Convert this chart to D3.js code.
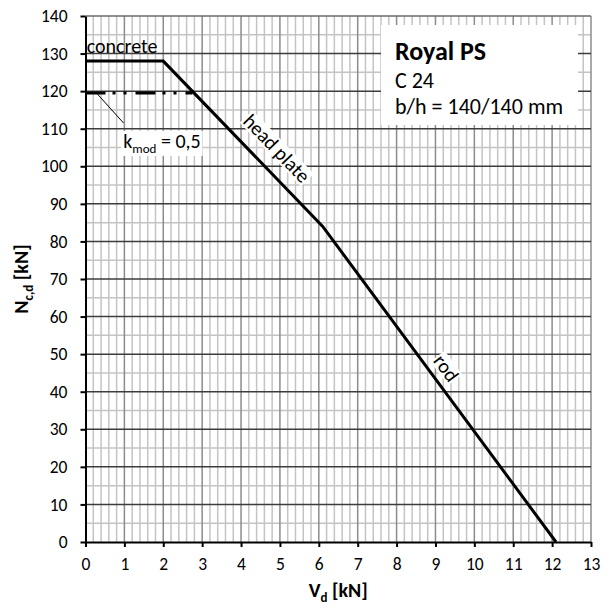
<!DOCTYPE html>
<html>
<head>
<meta charset="utf-8">
<script src="https://cdn.jsdelivr.net/npm/d3@7"></script>
<style>
  body { margin: 0; background: #fff; }
  svg { font-family: "Carlito", "Open Sans", sans-serif; }
</style>
</head>
<body>
<div id="chart"></div>
<script>
// values
const vTicks = d3.range(0, 14, 1);          // V_d [kN]
const nTicks = d3.range(0, 141, 10);        // N_c,d [kN]
const vMinor = d3.range(0, 13.01, 0.2);
const nMinor = d3.range(5, 140, 10);

// design curve: concrete -> head plate -> rod
const curveV = [0, 2.0, 6.1, 12.1];
const curveN = [128, 128, 84, 0];

// k_mod = 0,5 reduction
const kmodV = [0, 2.75];
const kmodN = [119.5, 119.5];
const leaderV = [0.3, 0.98];
const leaderN = [119.3, 111.5];

const infoLines = ["Royal PS", "C 24", "b/h = 140/140 mm"];

const width = 611, height = 610;
const margin = {top: 16, right: 20, bottom: 68, left: 85.5};

const x = d3.scaleLinear()
  .domain([0, 13])
  .range([margin.left, width - margin.right]);

const y = d3.scaleLinear()
  .domain([0, 140])
  .range([height - margin.bottom, margin.top]);

const svg = d3.select("#chart").append("svg")
  .attr("width", width)
  .attr("height", height);

// ================================
// grid
// ================================
const grid = svg.append("g").attr("fill", "none");

grid.selectAll(".vminor")
  .data(vMinor.filter(v => Math.abs(v - Math.round(v)) > 1e-6))
  .join("line")
  .attr("x1", d => x(d)).attr("x2", d => x(d))
  .attr("y1", y(0)).attr("y2", y(140))
  .attr("stroke", "#c4c4c4")
  .attr("stroke-width", 1.5);

grid.selectAll(".nminor")
  .data(nMinor)
  .join("line")
  .attr("x1", x(0)).attr("x2", x(13))
  .attr("y1", d => y(d)).attr("y2", d => y(d))
  .attr("stroke", "#c4c4c4")
  .attr("stroke-width", 1.5);

grid.selectAll(".vmajor")
  .data(vTicks.slice(1))
  .join("line")
  .attr("x1", d => x(d)).attr("x2", d => x(d))
  .attr("y1", y(0)).attr("y2", y(140))
  .attr("stroke", "#8c8c8c")
  .attr("stroke-width", 1.5);

grid.selectAll(".nmajor")
  .data(nTicks.slice(1))
  .join("line")
  .attr("x1", x(0)).attr("x2", x(13))
  .attr("y1", d => y(d)).attr("y2", d => y(d))
  .attr("stroke", d => d === 140 ? "#6a6a6a" : "#3c3c3c")
  .attr("stroke-width", 1.5);

// ================================
// axes
// ================================
const xAxis = g => g
  .attr("transform", `translate(0,${y(0)})`)
  .call(d3.axisBottom(x).tickValues(vTicks).tickSize(5).tickSizeOuter(0).tickPadding(11))
  .call(g => g.select(".domain").attr("stroke-width", 2))
  .call(g => g.selectAll(".tick line").attr("stroke-width", 2))
  .call(g => g.selectAll("text").attr("font-size", 17.5).attr("fill", "#000"));

const yAxis = g => g
  .attr("transform", `translate(${x(0)},0)`)
  .call(d3.axisLeft(y).tickValues(nTicks).tickSize(5).tickSizeOuter(0).tickPadding(13))
  .call(g => g.select(".domain").attr("stroke-width", 2))
  .call(g => g.selectAll(".tick line").attr("stroke-width", 2))
  .call(g => g.selectAll("text").attr("font-size", 17.5).attr("fill", "#000"));

svg.append("g").call(xAxis).attr("font-family", null);
svg.append("g").call(yAxis).attr("font-family", null);

// axis titles
const xTitle = svg.append("text")
  .attr("x", x(6.5))
  .attr("y", 596.5)
  .attr("text-anchor", "middle")
  .attr("font-weight", "bold")
  .attr("font-size", 20);
xTitle.append("tspan").text("V");
xTitle.append("tspan").text("d").attr("font-size", 13).attr("dy", 5);
xTitle.append("tspan").text(" [kN]").attr("dy", -5);

const yTitle = svg.append("text")
  .attr("transform", `translate(28,${y(70)}) rotate(-90)`)
  .attr("text-anchor", "middle")
  .attr("font-weight", "bold")
  .attr("font-size", 20);
yTitle.append("tspan").text("N");
yTitle.append("tspan").text("c,d").attr("font-size", 13).attr("dy", 5);
yTitle.append("tspan").text(" [kN]").attr("dy", -5);

// ================================
// curves
// ================================
const line = d3.line()
  .x(d => x(d[0]))
  .y(d => y(d[1]));

svg.append("path")
  .datum(d3.zip(kmodV, kmodN))
  .attr("d", line)
  .attr("fill", "none")
  .attr("stroke", "#000")
  .attr("stroke-width", 3)
  .attr("stroke-dasharray", "20,7,3,8,3,9");

svg.append("path")
  .datum(d3.zip(curveV, curveN))
  .attr("d", line)
  .attr("fill", "none")
  .attr("stroke", "#000")
  .attr("stroke-width", 3)
  .attr("stroke-linejoin", "miter");

svg.append("path")
  .datum(d3.zip(leaderV, leaderN))
  .attr("d", line)
  .attr("stroke", "#000")
  .attr("stroke-width", 1);

// ================================
// labels
// ================================
svg.append("text")
  .attr("x", x(0.03))
  .attr("y", 52.7)
  .attr("font-size", 20)
  .text("concrete");

// k_mod label with white background
const kmodGroup = svg.append("g");
const kmodText = kmodGroup.append("text")
  .attr("x", x(0.97))
  .attr("y", y(104.9))
  .attr("font-size", 20);
kmodText.append("tspan").text("k");
kmodText.append("tspan").text("mod").attr("font-size", 13).attr("dy", 5);
kmodText.append("tspan").text(" = 0,5").attr("dy", -5);
const kb = kmodText.node().getBBox();
kmodGroup.insert("rect", "text")
  .attr("x", kb.x - 2).attr("y", kb.y + 2)
  .attr("width", kb.width + 4).attr("height", kb.height - 2)
  .attr("fill", "#fff");

// rotated labels following the segments
const segAngle = (i) => Math.atan2(y(curveN[i + 1]) - y(curveN[i]), x(curveV[i + 1]) - x(curveV[i])) * 180 / Math.PI;

const slopeLabel = (txt, v, n, seg) => {
  const g = svg.append("g")
    .attr("transform", `translate(${x(v)},${y(n)}) rotate(${segAngle(seg)})`);
  const t = g.append("text")
    .attr("text-anchor", "middle")
    .attr("dy", "0.35em")
    .attr("font-size", 20)
    .text(txt);
  const b = t.node().getBBox();
  g.insert("rect", "text")
    .attr("x", b.x - 1).attr("y", b.y + 3)
    .attr("width", b.width + 2).attr("height", b.height - 6)
    .attr("fill", "#fff");
};

slopeLabel("head plate", 4.92, 104.8, 1);
slopeLabel("rod", 9.28, 46.3, 2);

// info box
svg.append("rect")
  .attr("x", 381).attr("y", 25)
  .attr("width", 197).attr("height", 100)
  .attr("fill", "#fff");

svg.append("g")
  .selectAll("text")
  .data(infoLines)
  .join("text")
  .attr("x", 395)
  .attr("y", (d, i) => [60, 88, 114][i])
  .attr("font-size", (d, i) => i === 0 ? 26 : 22)
  .attr("font-weight", (d, i) => i === 0 ? "bold" : "normal")
  .text(d => d);
</script>
</body>
</html>
